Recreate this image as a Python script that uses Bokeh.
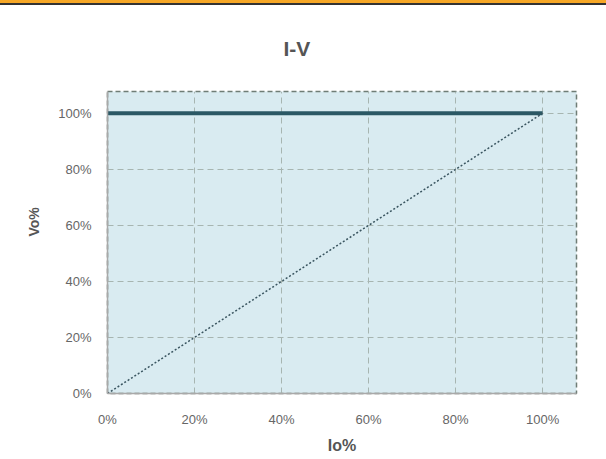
from bokeh.plotting import figure
from bokeh.models import Range1d, FixedTicker, Title, Div
from bokeh.layouts import column
from bokeh.embed import file_html
from bokeh.resources import INLINE

# ---- data ----
io_pct = [0, 20, 40, 60, 80, 100]
vo_pct = [100, 100, 100, 100, 100, 100]
vo_linear = [0, 20, 40, 60, 80, 100]
tick_values = [0, 20, 40, 60, 80, 100]
tick_labels = ["0%", "20%", "40%", "60%", "80%", "100%"]
x_max = 107.8
y_max = 107.8

band = Div(text="", width=606, height=5, margin=0,
           styles={"background-color": "#f6a726",
                   "border-bottom": "2px solid #333333",
                   "box-sizing": "border-box"})

p = figure(width=606, height=454, output_backend="svg", toolbar_location=None,
           x_range=Range1d(0, x_max), y_range=Range1d(0, y_max),
           min_border_left=107, min_border_right=30,
           min_border_top=86, min_border_bottom=63, margin=0)

p.background_fill_color = "#d9ebf1"
p.border_fill_color = "white"
p.outline_line_color = "#6f7d76"
p.outline_line_dash = "5 3"
p.outline_line_width = 1.5

# title
p.title.text = "I-V"
p.title.align = "left"
p.title.offset = 176
p.title.text_font = "Liberation Sans"
p.title.text_font_size = "21px"
p.title.text_font_style = "bold"
p.title.text_color = "#555555"
p.title.vertical_align = "top"
p.title.standoff = 60

for ax in (p.xaxis[0], p.yaxis[0]):
    ax.ticker = FixedTicker(ticks=tick_values)
    ax.major_label_overrides = {v: l for v, l in zip(tick_values, tick_labels)}
    ax.major_tick_line_color = None
    ax.minor_tick_line_color = None
    ax.axis_line_color = "#a9a9a9"
    ax.axis_line_width = 1.5
    ax.major_label_text_font = "Liberation Sans"
    ax.major_label_text_font_size = "13px"
    ax.major_label_text_color = "#666666"

p.yaxis[0].major_label_standoff = 10
p.xaxis[0].major_label_standoff = 12

# axis titles as Titles so they can be offset
ylab = Title(text="Vo%", align="left", offset=157, text_font="Liberation Sans",
             text_font_size="14px", text_font_style="bold", text_color="#555555",
             standoff=28)
p.add_layout(ylab, "left")
xlab = Title(text="Io%", align="center", text_font="Liberation Sans",
             text_font_size="16px", text_font_style="bold", text_color="#555555",
             standoff=11)
p.add_layout(xlab, "below")

for g in (p.xgrid[0], p.ygrid[0]):
    g.grid_line_color = "#a7b5b1"
    g.grid_line_dash = "6 4"
    g.grid_line_width = 1

# series
p.line(io_pct, vo_pct, line_color="#2b5865", line_width=4)
p.line(io_pct, vo_linear, line_color="#3a5560", line_width=1.5, line_dash="2 2")

layout = column(band, p, spacing=0, margin=0)
open("out.html", "w").write(file_html(layout, INLINE))
